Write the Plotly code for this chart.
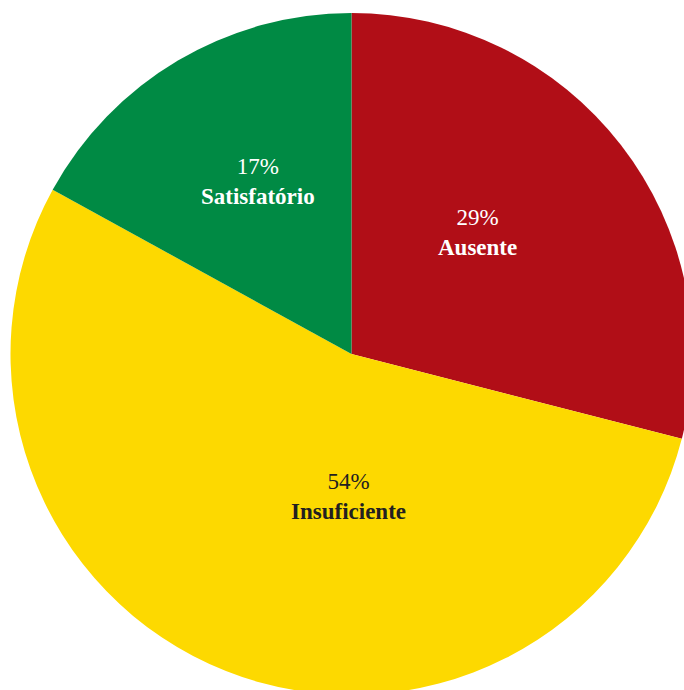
import plotly.graph_objects as go

labels = ["Ausente", "Insuficiente", "Satisfatório"]
values = [29, 54, 17]
colors = ["#B10E17", "#FDD900", "#008A44"]
text_colors = ["#FFFFFF", "#231F20", "#FFFFFF"]

# label placement (pixel centres in the 684x690 view, as in the reference)
label_px = [(477, 233), (348, 496), (258, 181)]

W, H = 693, 695
ML, MT = 10, 13

fig = go.Figure(go.Pie(
    labels=labels,
    values=values,
    sort=False,
    direction="clockwise",
    rotation=0,
    marker=dict(colors=colors, line=dict(width=0)),
    textinfo="none",
    hoverinfo="label+percent",
    showlegend=False,
))

total = sum(values)
annotations = []
for lab, val, col, (px, py) in zip(labels, values, text_colors, label_px):
    pct = round(val / total * 100)
    annotations.append(dict(
        text=f"{pct}%<br><b>{lab}</b>",
        x=(px - ML) / (W - ML),
        y=1 - (py - MT) / (H - MT),
        xref="paper", yref="paper",
        xanchor="center", yanchor="middle",
        showarrow=False,
        font=dict(family="Liberation Serif", size=23, color=col),
        align="center",
    ))

fig.update_layout(
    width=W,
    height=H,
    margin=dict(l=ML, r=0, t=MT, b=0),
    paper_bgcolor="white",
    plot_bgcolor="white",
    showlegend=False,
    annotations=annotations,
)

fig.write_html(
    "out.html",
    config={"displayModeBar": False},
    post_script="document.documentElement.style.overflow='hidden';document.body.style.overflow='hidden';document.body.style.margin='0';",
)
